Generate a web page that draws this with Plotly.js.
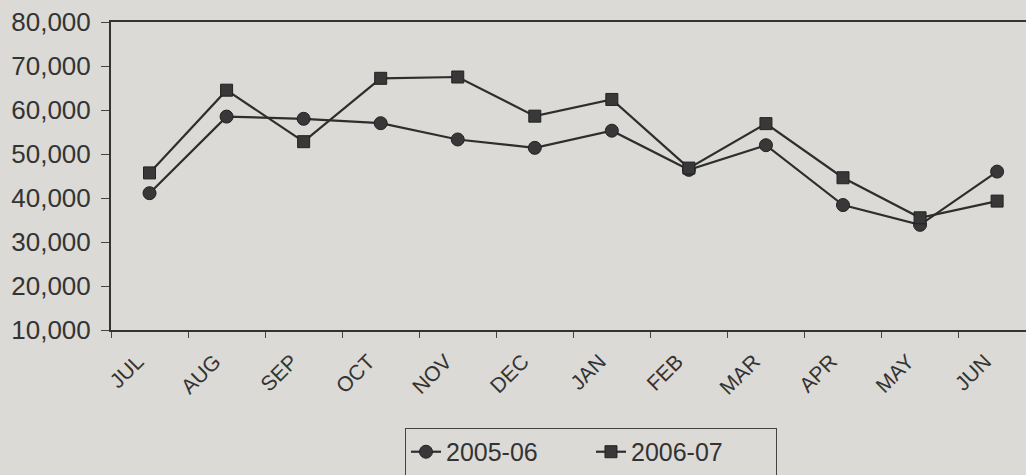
<!DOCTYPE html>
<html>
<head>
<meta charset="utf-8">
<script src="https://cdn.plot.ly/plotly-3.0.1.min.js"></script>
<style>
html,body{margin:0;padding:0;background:#dbdad6;}
#chart{width:1026px;height:475px;}
</style>
</head>
<body>
<div id="chart"></div>
<script>
const months = ["JUL","AUG","SEP","OCT","NOV","DEC","JAN","FEB","MAR","APR","MAY","JUN"];
const series2005_06 = [41100, 58500, 58000, 57000, 53300, 51400, 55300, 46400, 52000, 38400, 33900, 46000];
const series2006_07 = [45700, 64500, 52800, 67200, 67500, 58600, 62400, 46800, 56900, 44600, 35500, 39300];
const seriesNames = ["2005-06", "2006-07"];

const lineColor = "#2e2e2e";
const markerColor = "#383838";

const traces = [
  {
    x: months, y: series2005_06, name: seriesNames[0], type: "scatter", mode: "lines+markers",
    line: {color: lineColor, width: 2.2},
    marker: {symbol: "circle", size: 13, color: markerColor, line: {color: "#222", width: 1}}
  },
  {
    x: months, y: series2006_07, name: seriesNames[1], type: "scatter", mode: "lines+markers",
    line: {color: lineColor, width: 2.2},
    marker: {symbol: "square", size: 12, color: markerColor, line: {color: "#222", width: 1}}
  }
];

const layout = {
  width: 1026, height: 475,
  paper_bgcolor: "#dbdad6", plot_bgcolor: "#dbdad6",
  margin: {l: 111, r: 0, t: 22, b: 145, autoexpand: false},
  font: {family: "Liberation Sans, Arial, sans-serif", color: "#333", size: 17},
  showlegend: true,
  xaxis: {
    type: "category",
    range: [-0.5, 11.375],
    tickson: "boundaries",
    ticks: "outside", ticklen: 6, tickcolor: "#444", tickwidth: 1,
    tickangle: -45,
    ticklabelstandoff: 9,
    ticklabelshift: -12,
    showline: true, linecolor: "#333", linewidth: 2, mirror: true,
    showgrid: false, zeroline: false,
    tickfont: {size: 21, color: "#333"},
    fixedrange: true
  },
  yaxis: {
    range: [10000, 80000],
    dtick: 10000,
    tickformat: ",d",
    ticks: "outside", ticklen: 8, tickcolor: "#444", tickwidth: 1,
    ticklabelstandoff: 5,
    showline: true, linecolor: "#333", linewidth: 2,
    showgrid: false, zeroline: false,
    tickfont: {size: 26, color: "#333"},
    fixedrange: true
  },
  legend: {
    orientation: "h",
    xref: "container", yref: "container",
    x: 0.576, xanchor: "center",
    y: 0.099, yanchor: "top",
    entrywidth: 140,
    bgcolor: "#dbdad6",
    bordercolor: "#444", borderwidth: 1,
    font: {size: 25, color: "#333"}
  }
};

Plotly.newPlot("chart", traces, layout, {displayModeBar: false, staticPlot: true});
</script>
</body>
</html>
